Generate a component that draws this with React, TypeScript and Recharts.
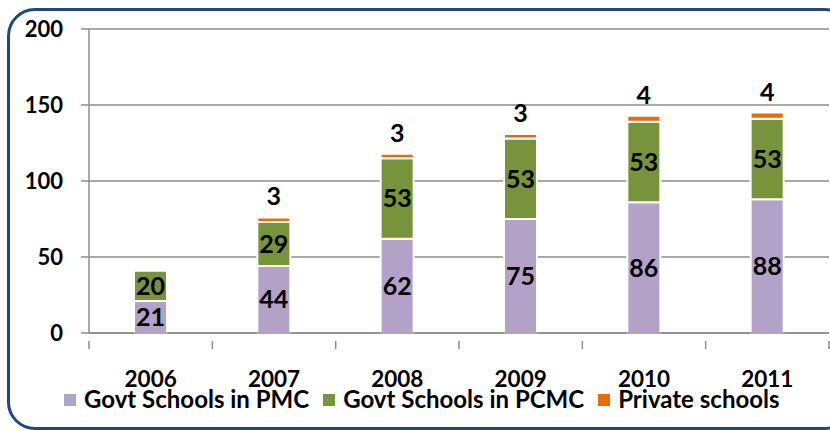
import React from 'react';
import {
  BarChart,
  Bar,
  XAxis,
  YAxis,
  CartesianGrid,
  LabelList
} from 'recharts';

const years = ['2006', '2007', '2008', '2009', '2010', '2011'];
const pmc = [21, 44, 62, 75, 86, 88];
const pcmc = [20, 29, 53, 53, 53, 53];
const privateSchools = [null, 3, 3, 3, 4, 4];
const yTicks = [0, 50, 100, 150, 200];

const series = [
  { key: 'pmc', name: 'Govt Schools in PMC', color: '#b3a2c7' },
  { key: 'pcmc', name: 'Govt Schools in PCMC', color: '#77933c' },
  { key: 'priv', name: 'Private schools', color: '#e46c0a' },
];

const data = years.map((year, i) => ({
  year,
  pmc: pmc[i],
  pcmc: pcmc[i],
  priv: privateSchools[i],
}));

const W = 830;
const H = 430;
const PLOT_LEFT = 89;
const PLOT_RIGHT = 829;
const PLOT_TOP = 29;
const PLOT_BOTTOM = 333;
const FONT = 'Lato, "Open Sans", sans-serif';
const step = (PLOT_RIGHT - PLOT_LEFT) / years.length;

const XTick = (props: any) => {
  const { x, y, payload, index } = props;
  const last = index === years.length - 1;
  return (
    <g>
      <line x1={x - step / 2} x2={x - step / 2} y1={y} y2={y + 8} stroke="#8c8c8c" strokeWidth={1.5} />
      {last && (
        <line x1={x + step / 2} x2={x + step / 2} y1={y} y2={y + 8} stroke="#8c8c8c" strokeWidth={1.5} />
      )}
      <text x={x} y={y + 46} textAnchor="middle" fontSize={22.5} fontWeight={700} fill="#000" fontFamily={FONT}>
        {payload.value}
      </text>
    </g>
  );
};

const ChartLegend = () => (
  <div
    style={{
      position: 'absolute',
      left: 64,
      top: 387,
      display: 'flex',
      alignItems: 'center',
      fontFamily: FONT,
      fontSize: 24,
      fontWeight: 700,
      color: '#000',
      lineHeight: '24px',
      whiteSpace: 'nowrap',
    }}
  >
    {series.map((s) => (
      <div key={s.key} style={{ display: 'flex', alignItems: 'center', marginRight: 14 }}>
        <span style={{ width: 12, height: 12, background: s.color, display: 'inline-block', marginRight: 8, marginTop: 2 }} />
        <span>{s.name}</span>
      </div>
    ))}
  </div>
);

const hideEmpty = (v: any) => (v ? v : '');

const App: React.FC = () => {
  return (
    <div style={{ position: 'absolute', left: 0, top: 0, width: W, height: H, background: '#fff', overflow: 'hidden' }}>
      <div
        style={{
          position: 'absolute',
          left: 7,
          top: 8,
          width: 840,
          height: 416,
          border: '3px solid #1f497d',
          borderRadius: 28,
        }}
      />
      <BarChart
        width={W}
        height={H}
        data={data}
        margin={{ top: PLOT_TOP, right: W - PLOT_RIGHT, left: 0, bottom: 0 }}
        barSize={33}
        style={{ position: 'absolute', left: 0, top: 0 }}
      >
        <CartesianGrid vertical={false} stroke="#8c8c8c" strokeWidth={1.5} />
        <YAxis
          width={PLOT_LEFT}
          domain={[0, 200]}
          ticks={yTicks}
          axisLine={{ stroke: '#8c8c8c', strokeWidth: 1.5 }}
          tickLine={{ stroke: '#8c8c8c', strokeWidth: 1.5 }}
          tickSize={8}
          tickMargin={18}
          tick={{ fontSize: 22, fontWeight: 700, fill: '#000', fontFamily: FONT }}
        />
        <XAxis
          dataKey="year"
          height={H - PLOT_BOTTOM}
          axisLine={{ stroke: '#8c8c8c', strokeWidth: 1.5 }}
          tickLine={false}
          tick={<XTick />}
          interval={0}
        />
        <Bar dataKey="pmc" name={series[0].name} stackId="a" fill={series[0].color} stroke="#fff" strokeWidth={2} isAnimationActive={false}>
          <LabelList dataKey="pmc" position="center" fill="#000" fontSize={25} fontWeight={700} fontFamily={FONT} />
        </Bar>
        <Bar dataKey="pcmc" name={series[1].name} stackId="a" fill={series[1].color} stroke="#fff" strokeWidth={2} isAnimationActive={false}>
          <LabelList dataKey="pcmc" position="center" fill="#000" fontSize={25} fontWeight={700} fontFamily={FONT} />
        </Bar>
        <Bar dataKey="priv" name={series[2].name} stackId="a" fill={series[2].color} stroke="#fff" strokeWidth={2} isAnimationActive={false}>
          <LabelList dataKey="priv" position="top" offset={12} formatter={hideEmpty} fill="#000" fontSize={25} fontWeight={700} fontFamily={FONT} />
        </Bar>
      </BarChart>
      <ChartLegend />
    </div>
  );
};

export default App;
